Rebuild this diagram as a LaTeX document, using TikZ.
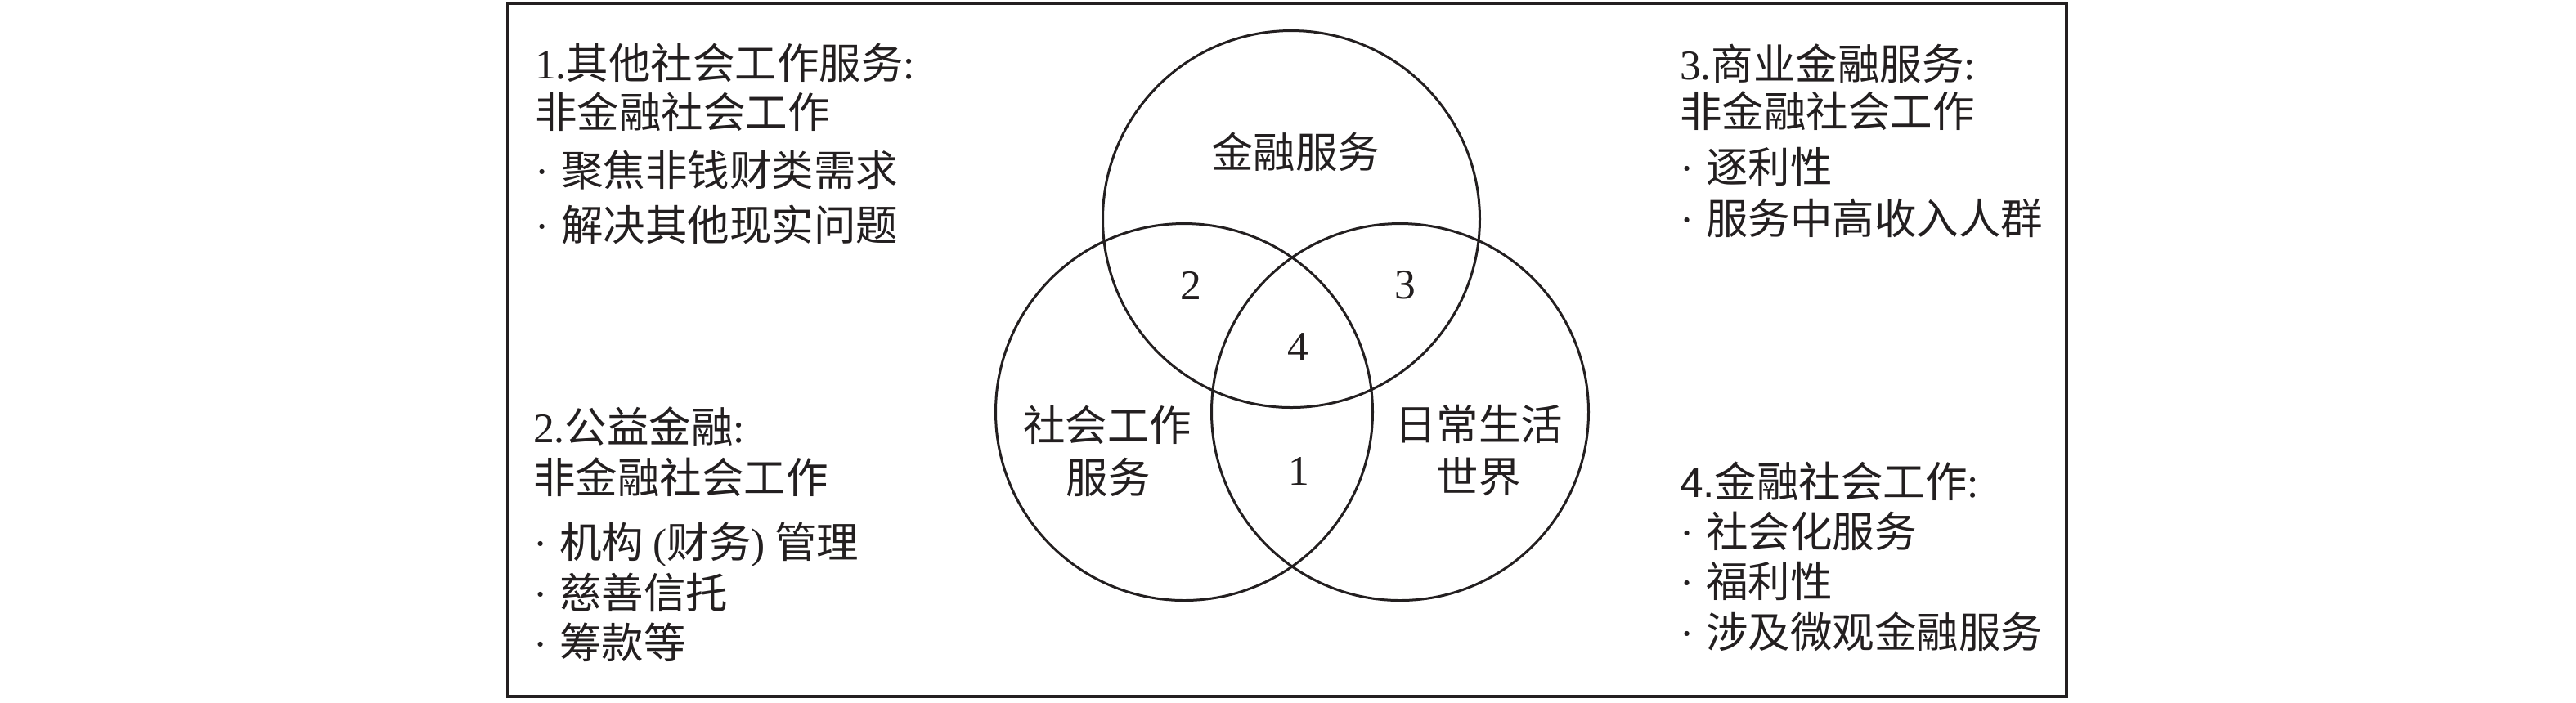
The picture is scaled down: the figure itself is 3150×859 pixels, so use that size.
\documentclass[tikz,border=0pt]{standalone}
\usepackage{fontspec}
\setmainfont{Liberation Serif}
\newfontfamily\cjkfont{Noto Sans CJK SC}
\newfontfamily\latsansfont{Liberation Sans}
\newcommand\bulx{\makebox[6.4pt][l]{\rmfamily\textperiodcentered}}
\definecolor{ink}{RGB}{35,31,32}
\begin{document}
\begin{tikzpicture}[x=0.2pt,y=-0.2pt,
  frame/.style={draw=ink,line width=0.7pt},
  vcirc/.style={draw=ink,line width=0.6pt,circle,inner sep=0pt,minimum size=92.2pt},
  txt/.style={anchor=west,inner sep=0pt,text=ink,font=\cjkfont\fontsize{10.3}{12}\selectfont,text height=9pt,text depth=1.3pt},
  lbl/.style={anchor=center,inner sep=0pt,text=ink,font=\cjkfont\fontsize{10.3}{12}\selectfont,text height=9pt,text depth=1.3pt},
  num/.style={anchor=center,inner sep=0pt,text=ink,font=\rmfamily\fontsize{10.3}{12}\selectfont}]
\useasboundingbox (0,0) rectangle (3150,859);
\draw[frame] (621,4) rectangle (2527,852);
% circles
\node[vcirc] (finance) at (1579,268) {};
\node[vcirc] (social) at (1448,504) {};
\node[vcirc] (life) at (1712,504) {};
% circle labels
\node[lbl] (lfin) at (1584,186) {金融服务};
\node[lbl] (lsoc1) at (1354,520) {社会工作};
\node[lbl] (lsoc2) at (1355,584) {服务};
\node[lbl] (llife1) at (1808,519) {日常生活};
\node[lbl] (llife2) at (1808,583) {世界};
\node[num] (n2) at (1456,349) {2};
\node[num] (n3) at (1718,349) {3};
\node[num] (n4) at (1587,425) {4};
\node[num] (n1) at (1588,576) {1};
% left top block
\node[txt] (a1) at (653,77) {{\rmfamily 1.}其他社会工作服务{\rmfamily :}};
\node[txt] (a2) at (653,137) {非金融社会工作};
\node[txt] (a3) at (653,208) {\bulx 聚焦非钱财类需求};
\node[txt] (a4) at (653,275) {\bulx 解决其他现实问题};
% left bottom block
\node[txt] (b1) at (651,522) {{\rmfamily 2.}公益金融{\rmfamily :}};
\node[txt] (b2) at (651,584) {非金融社会工作};
\node[txt] (b3) at (651,663) {\bulx 机构 {\rmfamily (}财务{\rmfamily )} 管理};
\node[txt] (b4) at (651,725) {\bulx 慈善信托};
\node[txt] (b5) at (651,786) {\bulx 筹款等};
% right top block
\node[txt] (c1) at (2053,78) {{\rmfamily 3.}商业金融服务{\rmfamily :}};
\node[txt] (c2) at (2053,136) {非金融社会工作};
\node[txt] (c3) at (2053,204) {\bulx 逐利性};
\node[txt] (c4) at (2053,267) {\bulx 服务中高收入人群};
% right bottom block
\node[txt] (d1) at (2053,589) {{\latsansfont 4.}金融社会工作{\rmfamily :}};
\node[txt] (d2) at (2053,650) {\bulx 社会化服务};
\node[txt] (d3) at (2053,711) {\bulx 福利性};
\node[txt] (d4) at (2053,773) {\bulx 涉及微观金融服务};
\end{tikzpicture}
\end{document}
